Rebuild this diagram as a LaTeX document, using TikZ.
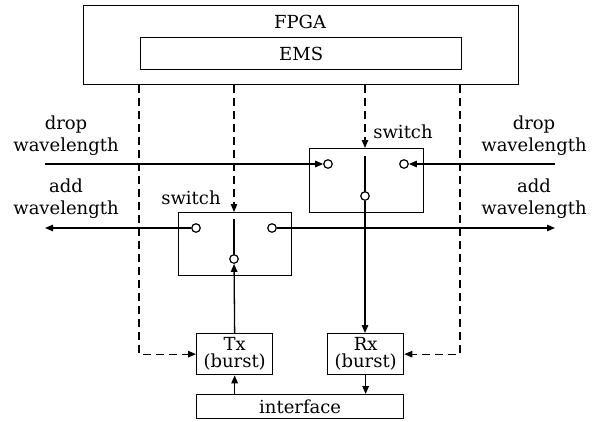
\documentclass[tikz,border=0pt]{standalone}
\usepackage{fontspec}
\setmainfont{DejaVu Serif}
\usetikzlibrary{arrows.meta}
\begin{document}
\begin{tikzpicture}[x=1pt,y=-1pt,
  every node/.style={font=\fontsize{18}{22}\selectfont, inner sep=0pt},
  box/.style={draw, line width=1.3pt, anchor=north west, align=center},
  port/.style={draw, circle, line width=1.2pt, fill=white, minimum size=8.5pt, inner sep=0pt},
  conn/.style={line width=1.3pt},
  ctrl/.style={line width=1.3pt, dash pattern=on 8pt off 5pt},
  tip/.style={-{Triangle[length=8pt,width=6.5pt]}},
  lbl/.style={align=center}]
\useasboundingbox (0,0) rectangle (597,421);
% boxes
\node[box, minimum width=435pt, minimum height=79pt] (fpga) at (83,5) {};
\node (fpgat) at (300,22) {FPGA};
\node[box, minimum width=321pt, minimum height=32pt] (ems) at (140,37) {EMS};
\node[box, minimum width=114pt, minimum height=64pt] (rsw) at (309,148) {};
\node[box, minimum width=113pt, minimum height=63pt] (lsw) at (178,212) {};
\node[box, minimum width=76pt, minimum height=41pt, font=\fontsize{18}{17}\selectfont] (tx) at (196,333) {Tx\\(burst)};
\node[box, minimum width=76pt, minimum height=41pt, font=\fontsize{18}{17}\selectfont] (rx) at (327,333) {Rx\\(burst)};
\node[box, minimum width=207pt, minimum height=24pt] (iface) at (196,394) {interface};
% labels
\node[lbl] (ldrop) at (66,136) {drop\\wavelength};
\node[lbl] (rdrop) at (534,136) {drop\\wavelength};
\node[lbl] (ladd) at (66,199) {add\\wavelength};
\node[lbl] (radd) at (534,199) {add\\wavelength};
\node (rswl) at (403,132) {switch};
\node (lswl) at (191,198) {switch};
% coordinates
\coordinate (dropL) at (45,164);
\coordinate (dropR) at (555,164);
\coordinate (addL) at (45,228);
\coordinate (addR) at (555,228);
\coordinate (d1) at (139,0);
\coordinate (d4) at (460,0);
\coordinate (r3) at (365,156);
\coordinate (l6) at (234,219);
% inner lines
\draw[conn] (r3) -- (365,196);
\draw[conn] (l6) -- (234,259);
% ports
\node[port] (c1) at (328,164) {};
\node[port] (c2) at (404,164) {};
\node[port] (c3) at (365,196) {};
\node[port] (c4) at (196,228) {};
\node[port] (c5) at (272,228) {};
\node[port] (c6) at (234,259) {};
% control lines
\draw[ctrl, tip] (fpga.south -| d1) |- (tx.west);
\draw[ctrl, tip] (fpga.south -| c6) -- (lsw.north -| c6);
\draw[ctrl, tip] (fpga.south -| c3) -- (rsw.north -| c3);
\draw[ctrl, tip] (fpga.south -| d4) |- (rx.east);
% signal lines
\draw[conn, tip] (dropL) -- (c1);
\draw[conn, tip] (dropR) -- (c2);
\draw[conn, tip] (c4) -- (addL);
\draw[conn, tip] (c5) -- (addR);
\draw[conn, tip] (c3) -- (rx.north -| c3);
\draw[conn, tip] (tx.north) -- (c6);
\draw[conn, tip] (iface.north -| tx) -- (tx.south);
\draw[conn, tip] (rx.south) -- (iface.north -| rx);
\end{tikzpicture}
\end{document}
